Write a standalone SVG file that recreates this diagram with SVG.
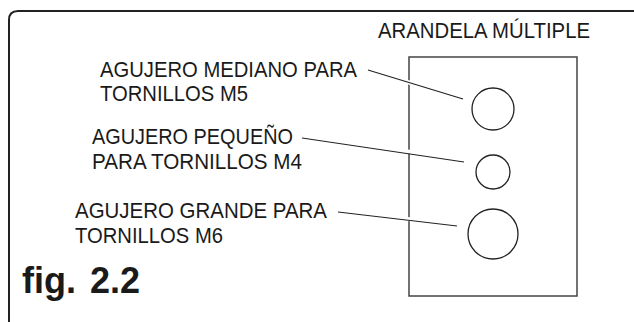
<svg xmlns="http://www.w3.org/2000/svg" width="634" height="322" viewBox="0 0 634 322">
<style>
.t{font-family:"Liberation Sans",Arial,sans-serif;font-size:22px;fill:#1a1a1a}
.fig{font-family:"Liberation Sans",Arial,sans-serif;font-size:36px;font-weight:bold;fill:#1a1a1a}
.halo{stroke:#fff;stroke-width:4;fill:none}
.lead{stroke:#222;stroke-width:1.2;fill:none}
.hole{stroke:#222;stroke-width:1.3;fill:#fff}
</style>
<rect width="634" height="322" fill="#fff"/>
<path id="frame" d="M9,322 V20 Q9,11 18,11 H634" fill="none" stroke="#222" stroke-width="2"/>
<g id="washer">
<rect x="409" y="57" width="168" height="239" fill="#fff" stroke="#444" stroke-width="1.5"/>
<text class="t" x="378" y="38" textLength="212" lengthAdjust="spacingAndGlyphs">ARANDELA MÚLTIPLE</text>
</g>
<g id="connectors">
<line class="halo" x1="395" y1="78" x2="420" y2="86"/>
<line class="halo" x1="395" y1="150" x2="420" y2="153"/>
<line class="halo" x1="395" y1="218" x2="420" y2="220"/>
<line class="lead" x1="368" y1="70" x2="463" y2="99"/>
<line class="lead" x1="302" y1="138" x2="464" y2="162"/>
<line class="lead" x1="338" y1="212" x2="457" y2="226"/>
</g>
<g id="hole-m5"><circle class="hole" cx="493" cy="109" r="21"/></g>
<g id="hole-m4"><circle class="hole" cx="493" cy="172" r="17"/></g>
<g id="hole-m6"><circle class="hole" cx="493" cy="234" r="25"/></g>
<g id="label-m5">
<text class="t" x="100" y="77" textLength="257" lengthAdjust="spacingAndGlyphs">AGUJERO MEDIANO PARA</text>
<text class="t" x="100" y="101" textLength="148" lengthAdjust="spacingAndGlyphs">TORNILLOS M5</text>
</g>
<g id="label-m4">
<text class="t" x="92" y="144" textLength="201" lengthAdjust="spacingAndGlyphs">AGUJERO PEQUEÑO</text>
<text class="t" x="92" y="169" textLength="210" lengthAdjust="spacingAndGlyphs">PARA TORNILLOS M4</text>
</g>
<g id="label-m6">
<text class="t" x="75" y="218" textLength="252" lengthAdjust="spacingAndGlyphs">AGUJERO GRANDE PARA</text>
<text class="t" x="75" y="243" textLength="148" lengthAdjust="spacingAndGlyphs">TORNILLOS M6</text>
</g>
<text class="fig" x="22" y="293" word-spacing="4">fig. 2.2</text>
</svg>
